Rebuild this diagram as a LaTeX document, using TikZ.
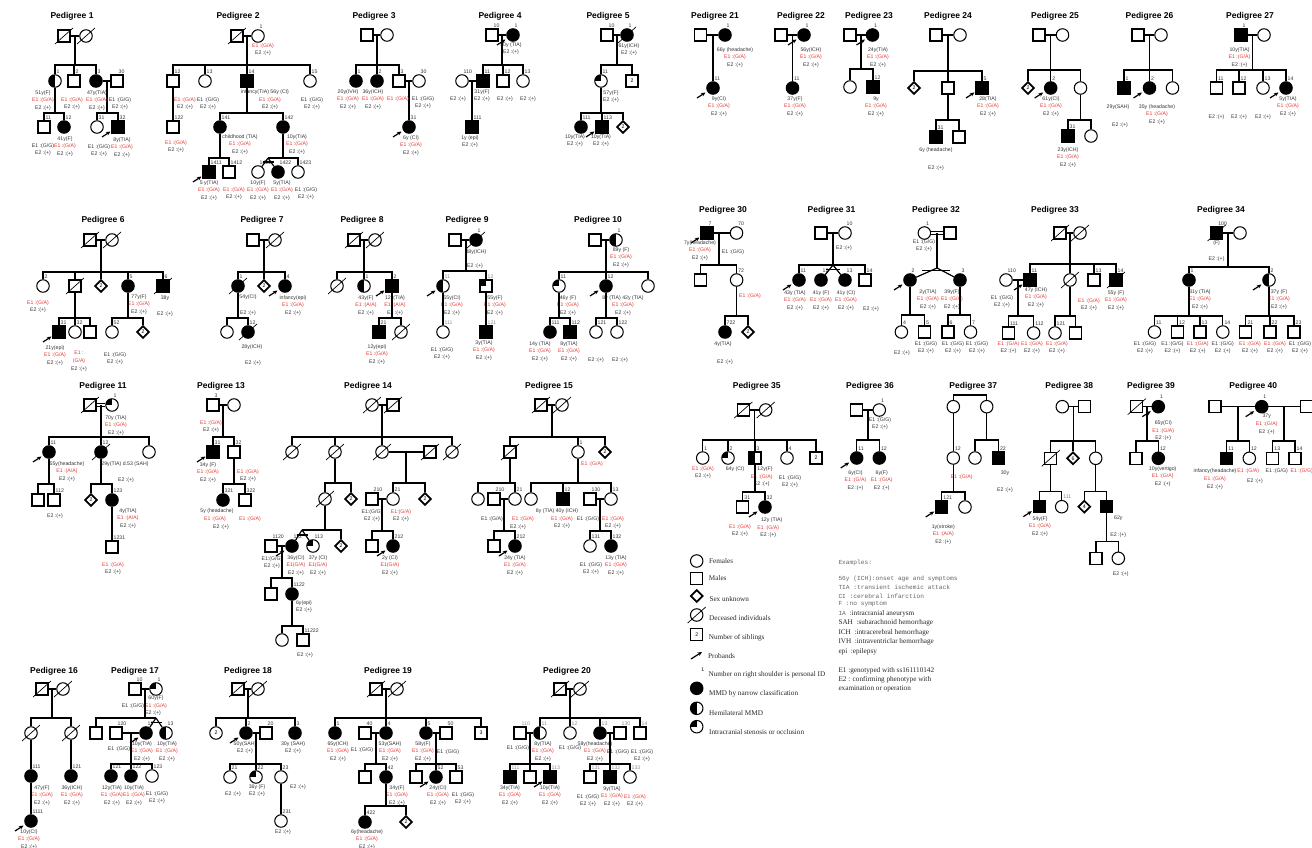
\documentclass[tikz,border=0pt]{standalone}
\usepackage{fontspec}
\setmainfont{Liberation Serif}
\setsansfont{Liberation Sans}
\setmonofont{Liberation Mono}
\usetikzlibrary{shapes.geometric,arrows.meta,calc,positioning}
\definecolor{ered}{RGB}{228,56,50}
\newcommand\pfont{\sffamily\fontsize{5.2}{7.7}\selectfont}
\newcommand\rE[1]{\textcolor{ered}{E1 :(#1)}}
\newcommand\bE[1]{E1 :(#1)}
\newcommand\Ep{E2 :(+)}
\newcommand\rip[1]{\draw[line width=0.7pt] ([shift={(-9,8)}]#1.center) -- ([shift={(9,-8)}]#1.center);}
\newcommand\prb[1]{\draw[-{Stealth[length=4.5pt,width=4pt]},line width=1.2pt] ([shift={(-16,10)}]#1.center) -- ([shift={(-7.5,4.5)}]#1.center);}
\newcommand\sibs[4]{\coordinate (#1) at (#2); \draw[lk] (#1) -- (#1 |- #3); \foreach \k in {#4} {\draw[lk] (\k) |- (#1);}}
\newcommand\twin[3]{\draw[lk] (#1) -- (#2) (#1) -- (#3); \draw[lk] ($(#1)!.55!(#2.north)$) -- ($(#1)!.55!(#3.north)$);}
\tikzset{
  lk/.style={line width=1.2pt},
  ml/.style={draw,rectangle,minimum size=12pt,inner sep=0pt,line width=1.05pt,font=\pfont},
  fm/.style={draw,circle,minimum size=12.5pt,inner sep=0pt,line width=1.05pt,font=\pfont},
  uk/.style={draw,diamond,minimum size=12.5pt,inner sep=0pt,line width=1.7pt,font=\pfont},
  af/.style={fill=black},
  hf/.style={path picture={\fill[black] (path picture bounding box.south west) rectangle (path picture bounding box.north);}},
  qf/.style={path picture={\fill[black] (path picture bounding box.west) rectangle (path picture bounding box.north);}},
  lbl/.style={font=\pfont,inner sep=0pt,anchor=south west,xshift=1.5pt,yshift=0.8pt,text=black!80},
  pid/.style={label={[lbl]north:#1}},
  gid/.style={label={[lbl,text=black!45]north:#1}},
  tx/.style={font=\pfont,align=center,inner sep=0pt,anchor=north,yshift=2.8pt,text=black!80},
  ttl/.style={font=\sffamily\bfseries\fontsize{8.5}{9}\selectfont},
  lg/.style={font=\rmfamily\fontsize{7.2}{8}\selectfont,anchor=west,inner sep=0pt,text=black!85},
  ex/.style={font=\ttfamily\fontsize{6.2}{7}\selectfont,anchor=west,inner sep=0pt,text=black!60},
}
\begin{document}
\begin{tikzpicture}[x=1pt,y=-1pt]
\useasboundingbox (0,0) rectangle (1312,848);

\node[ttl] (t1) at (72,16) {Pedigree 1};
\node[ml] (p1-f) at (64,36) {}; \node[fm] (p1-m) at (86,36) {}; \rip{p1-f} \rip{p1-m}
\draw[lk] (p1-f) -- (p1-m);
\node[fm,hf,pid=1] (p1-1) at (55,81) {};
\node[ml,pid=2] (p1-2) at (74,81) {};
\node[fm,af,pid=3] (p1-3) at (96,81) {};
\node[ml,pid=30] (p1-30) at (117,81) {};
\draw[lk] (p1-3) -- (p1-30);
\sibs{j1a}{75,65}{p1-f}{p1-1,p1-2,p1-3}
\node[ml,pid=11] (p1-11) at (44,127) {};
\node[fm,af,pid=12] (p1-12) at (64,127) {};
\sibs{j1b}{55,113}{p1-1.south}{p1-11,p1-12}
\node[fm,pid=31] (p1-31) at (97,127) {};
\node[ml,af,pid=32] (p1-32) at (118,127) {}; \prb{p1-32}
\sibs{j1c}{107,113}{p1-3}{p1-31,p1-32}
\node[tx] (n1a) at (43,93) {51y(F)\\\rE{G/A}\\\Ep};
\node[tx] (n1b) at (72,100) {\rE{G/A}\\\Ep};
\node[tx] (n1c) at (97,93) {47y(TIA)\\\rE{G/A}\\\Ep};
\node[tx] (n1d) at (120,100) {\bE{G/G}\\\Ep};
\node[tx] (n1e) at (43,146) {\bE{G/G}\\\Ep};
\node[tx] (n1f) at (65,139) {41y(F)\\\rE{G/A}\\\Ep};
\node[tx] (n1g) at (99,147) {\bE{G/G}\\\Ep};
\node[tx] (n1h) at (122,140) {8y(TIA)\\\rE{G/A}\\\Ep};

\node[ttl] (t2) at (238,16) {Pedigree 2};
\node[ml] (p2-f) at (237,36) {}; \rip{p2-f}
\node[fm,pid=1] (p2-1) at (258,36) {};
\draw[lk] (p2-f) -- (p2-1);
\node[tx] (n2a) at (263,46) {\rE{G/A}\\\Ep};
\node[ml,pid=12] (p2-12) at (173,81) {};
\node[fm,pid=13] (p2-13) at (205,81) {};
\node[ml,af,pid=14] (p2-14) at (247,81) {};
\node[fm,pid=15] (p2-15) at (310,81) {};
\sibs{j2a}{247,65}{p2-f}{p2-12,p2-13,p2-14,p2-15}
\node[tx] (n2b) at (185,100) {\rE{G/A}\\\Ep};
\node[tx] (n2c) at (208,100) {\bE{G/G}\\\Ep};
\node[tx] (n2d) at (265,92) {infancy(TIA) 56y (CI)};
\node[tx] (n2e) at (270,100) {\rE{G/A}\\\Ep};
\node[tx] (n2f) at (312,100) {\bE{G/G}\\\Ep};
\node[ml,pid=122] (p2-122) at (173,127) {};
\draw[lk] (p2-12) -- (p2-122);
\node[tx] (n2g) at (176,143) {\rE{G/A}\\\Ep};
\node[fm,af,pid=141] (p2-141) at (220,127) {};
\node[fm,af,pid=142] (p2-142) at (283,127) {};
\sibs{j2b}{247,113}{p2-14.south}{p2-141,p2-142}
\node[tx] (n2h) at (240,137) {childhood (TIA)\\\rE{G/A}\\\Ep};
\node[tx] (n2i) at (297,137) {10y(TIA)\\\rE{G/A}\\\Ep};
\node[ml,af,pid=1411] (p2-1411) at (209,172) {}; \prb{p2-1411}
\node[ml,pid=1412] (p2-1412) at (229,172) {};
\sibs{j2c}{220,158}{p2-141.south}{p2-1411,p2-1412}
\node[fm,pid=1421] (p2-1421) at (258,172) {};
\node[fm,af,pid=1422] (p2-1422) at (278,172) {};
\node[fm,pid=1423] (p2-1423) at (298,172) {};
\coordinate (w2) at (268,158);
\twin{w2}{p2-1421}{p2-1422}
\sibs{j2d}{283,158}{p2-142.south}{w2,p2-1423}
\node[tx] (n2j) at (209,183) {5 y(TIA)\\\rE{G/A}\\\Ep};
\node[tx] (n2k) at (234,190) {\rE{G/A}\\\Ep};
\node[tx] (n2l) at (258,183) {10y(F)\\\rE{G/A}\\\Ep};
\node[tx] (n2m) at (282,183) {5y(TIA)\\\rE{G/A}\\\Ep};
\node[tx] (n2n) at (306,190) {\bE{G/G}\\\Ep};

\node[ttl] (t3) at (374,16) {Pedigree 3};
\node[ml] (p3-f) at (367,35) {}; \node[fm] (p3-m) at (387,35) {};
\draw[lk] (p3-f) -- (p3-m);
\node[fm,af,pid=1] (p3-1) at (356,81) {};
\node[fm,af,pid=2] (p3-2) at (377,81) {};
\node[ml,pid=3] (p3-3) at (399,81) {};
\node[fm,pid=30] (p3-30) at (419,81) {};
\draw[lk] (p3-3) -- (p3-30);
\sibs{j3a}{377,65}{p3-f}{p3-1,p3-2,p3-3}
\node[fm,af,pid=31] (p3-31) at (409,127) {}; \prb{p3-31}
\draw[lk] (p3-31) -- (p3-31 |- p3-3);
\node[tx] (n3a) at (348,92) {20y(IVH)\\\rE{G/A}\\\Ep};
\node[tx] (n3b) at (373,92) {36y(ICH)\\\rE{G/A}\\\Ep};
\node[tx] (n3c) at (398,99) {\rE{G/A}};
\node[tx] (n3d) at (423,99) {\bE{G/G}\\\Ep};
\node[tx] (n3e) at (411,138) {6y (CI)\\\rE{G/A}\\\Ep};

\node[ttl] (t4) at (500,16) {Pedigree 4};
\node[ml,pid=10] (p4-10) at (492,35) {};
\node[fm,af,pid=1] (p4-1) at (513,35) {}; \prb{p4-1}
\draw[lk] (p4-10) -- (p4-1);
\node[tx] (n4a) at (511,45) {50y (TIA)\\\Ep};
\node[fm,pid=110] (p4-110) at (462,81) {};
\node[ml,af,pid=11] (p4-11) at (483,81) {};
\node[ml,pid=12] (p4-12) at (503,81) {};
\node[fm,pid=13] (p4-13) at (523,81) {};
\draw[lk] (p4-110) -- (p4-11);
\sibs{j4a}{502,65}{p4-10}{p4-11,p4-12,p4-13}
\node[ml,af,pid=111] (p4-111) at (472,127) {};
\draw[lk] (p4-111) -- (p4-111 |- p4-11);
\node[tx] (n4b) at (458,99) {\Ep};
\node[tx] (n4c) at (482,92) {31y(F)\\\Ep};
\node[tx] (n4d) at (505,99) {\Ep};
\node[tx] (n4e) at (528,99) {\Ep};
\node[tx] (n4f) at (470,138) {1y (epi)\\\Ep};

\node[ttl] (t5) at (608,16) {Pedigree 5};
\node[ml,pid=10] (p5-10) at (607,35) {};
\node[fm,af,pid=1] (p5-1) at (627,35) {}; \rip{p5-1}
\draw[lk] (p5-10) -- (p5-1);
\node[tx] (n5a) at (629,46) {61y(ICH)\\\Ep};
\node[fm,qf,pid=11] (p5-11) at (601,81) {};
\node[ml] (p5-s) at (632,81) {2};
\sibs{j5a}{617,65}{p5-10}{p5-11,p5-s}
\node[tx] (n5b) at (611,93) {57y(F)\\\Ep};
\node[fm,af,pid=111] (p5-111) at (581,127) {};
\node[ml,af,pid=113] (p5-113) at (602,127) {}; \prb{p5-113}
\node[uk] (p5-u) at (623,127) {2};
\sibs{j5b}{601,113}{p5-11.south}{p5-111,p5-113,p5-u}
\node[tx] (n5c) at (575,137) {10y(TIA)\\\Ep};
\node[tx] (n5d) at (601,137) {10y(TIA)\\\Ep};

\node[ttl] (t6) at (103,220) {Pedigree 6};
\node[ml] (p6-f) at (90,240) {}; \node[fm] (p6-m) at (112,240) {}; \rip{p6-f} \rip{p6-m}
\draw[lk] (p6-f) -- (p6-m);
\node[fm,pid=2] (p6-2) at (43,286) {};
\node[ml] (p6-d) at (75,286) {}; \rip{p6-d}
\node[uk] (p6-u) at (101,286) {2};
\node[fm,af,pid=5] (p6-5) at (128,286) {};
\node[ml,af,pid=6] (p6-6) at (163,286) {}; \rip{p6-6}
\sibs{j6a}{101,272}{p6-f}{p6-2,p6-d,p6-u,p6-5,p6-6}
\node[tx] (n6a) at (38,303) {\rE{G/A}\\\Ep};
\node[tx] (n6b) at (139,297) {77y(F)\\\rE{G/A}\\\Ep};
\node[tx] (n6c) at (165,298) {38y};
\node[tx] (n6d) at (165,314) {\Ep};
\node[ml,af,pid=31] (p6-31) at (59,332) {}; \prb{p6-31}
\node[fm,pid=32] (p6-32) at (75,332) {};
\node[ml] (p6-s) at (90,332) {};
\sibs{j6b}{75,318}{p6-d.south}{p6-31,p6-32,p6-s}
\node[fm,pid=52] (p6-52) at (112,332) {};
\node[uk] (p6-u2) at (143,332) {2};
\sibs{j6c}{128,318}{p6-5.south}{p6-52,p6-u2}
\node[tx] (n6e) at (55,348) {21y(epi)\\\rE{G/A}\\\Ep};
\node[tx] (n6f) at (79,354) {\textcolor{ered}{E1 :}\\\textcolor{ered}{(G/A)}\\\Ep};
\node[tx] (n6g) at (115,355) {\bE{G/G}\\\Ep};

\node[ttl] (t7) at (262,220) {Pedigree 7};
\node[ml] (p7-f) at (253,240) {}; \node[fm] (p7-m) at (275,240) {}; \rip{p7-m}
\draw[lk] (p7-f) -- (p7-m);
\node[fm,af,pid=1] (p7-1) at (238,286) {}; \rip{p7-1}
\node[uk] (p7-u) at (264,286) {2};
\node[fm,af,pid=4] (p7-4) at (285,286) {}; \prb{p7-4}
\sibs{j7a}{264,272}{p7-f}{p7-1,p7-u,p7-4}
\node[tx] (n7a) at (248,297) {54y(CI)};
\node[tx] (n7b) at (248,313) {\Ep};
\node[tx] (n7c) at (293,298) {infancy(epi)\\\rE{G/A}\\\Ep};
\node[fm] (p7-c) at (227,332) {};
\node[fm,af,pid=12] (p7-12) at (248,332) {}; \rip{p7-12}
\sibs{j7b}{238,318}{p7-1.south}{p7-c,p7-12}
\node[tx] (n7d) at (252,347) {28y(ICH)};
\node[tx] (n7e) at (253,363) {\Ep};

\node[ttl] (t8) at (362,220) {Pedigree 8};
\node[ml] (p8-f) at (354,240) {}; \node[fm] (p8-m) at (375,240) {}; \rip{p8-f} \rip{p8-m}
\draw[lk] (p8-f) -- (p8-m);
\node[fm] (p8-d) at (337,286) {}; \rip{p8-d}
\node[fm,hf,pid=1] (p8-1) at (364,286) {};
\node[ml,af,pid=2] (p8-2) at (392,286) {}; \prb{p8-2}
\sibs{j8a}{364,272}{p8-f}{p8-d,p8-1,p8-2}
\node[tx] (n8a) at (366,298) {43y(F)\\\rE{A/A}\\\Ep};
\node[tx] (n8b) at (395,298) {12y(TIA)\\\rE{A/A}\\\Ep};
\node[ml,af,pid=21] (p8-21) at (379,332) {};
\node[fm] (p8-d2) at (401,332) {}; \rip{p8-d2}
\sibs{j8b}{392,318}{p8-2.south}{p8-21,p8-d2}
\node[tx] (n8c) at (377,347) {12y(epi)\\\rE{G/A}\\\Ep};

\node[ttl] (t9) at (467,220) {Pedigree 9};
\node[ml] (p9-f) at (455,240) {};
\node[fm,af,pid=1] (p9-1) at (476,240) {}; \rip{p9-1}
\draw[lk] (p9-f) -- (p9-1);
\node[tx] (n9a) at (476,252) {38y(ICH)};
\node[tx] (n9b) at (475,266) {\Ep};
\node[fm,hf,gid=11] (p9-11) at (443,286) {}; \prb{p9-11}
\node[ml,qf,gid=12] (p9-12) at (486,286) {};
\sibs{j9a}{466,271}{p9-f}{p9-11,p9-12}
\node[tx] (n9c) at (452,298) {55y(CI)\\\rE{G/A}\\\Ep};
\node[tx] (n9d) at (495,298) {55y(F)\\\rE{G/A}\\\Ep};
\node[fm,gid=111] (p9-111) at (443,332) {};
\node[ml,af,gid=121] (p9-121) at (486,332) {};
\draw[lk] (p9-11) -- (p9-111); \draw[lk] (p9-12) -- (p9-121);
\node[tx] (n9e) at (442,350) {\bE{G/G}\\\Ep};
\node[tx] (n9f) at (484,343) {3y(TIA)\\\rE{G/A}\\\Ep};

\node[ttl] (t10) at (598,220) {Pedigree 10};
\node[ml] (p10-f) at (595,240) {};
\node[fm,hf,pid=1] (p10-1) at (616,240) {};
\draw[lk] (p10-f) -- (p10-1);
\node[tx] (n10a) at (621,250) {89y (F)\\\rE{G/A}\\\Ep};
\node[fm,qf,pid=11] (p10-11) at (559,286) {};
\node[fm,af,pid=12] (p10-12) at (606,286) {}; \prb{p10-12}
\node[fm] (p10-c) at (648,286) {};
\sibs{j10a}{606,272}{p10-f}{p10-11,p10-12,p10-c}
\node[tx] (n10b) at (568,298) {46y (F)\\\rE{G/A}\\\Ep};
\node[tx] (n10c) at (623,298) {8y (TIA) 42y (TIA)\\\rE{G/A}\\\Ep};
\node[fm,af,pid=111] (p10-111) at (550,332) {};
\node[ml,af,pid=112] (p10-112) at (570,332) {};
\sibs{j10b}{559,318}{p10-11.south}{p10-111,p10-112}
\node[fm,pid=121] (p10-121) at (596,332) {};
\node[fm,pid=122] (p10-122) at (617,332) {};
\sibs{j10c}{606,318}{p10-12.south}{p10-121,p10-122}
\node[tx] (n10d) at (540,344) {14y (TIA)\\\rE{G/A}\\\Ep};
\node[tx] (n10e) at (569,344) {8y(TIA)\\\rE{G/A}\\\Ep};
\node[tx] (n10f) at (596,360) {\Ep};
\node[tx] (n10g) at (620,360) {\Ep};

\node[ttl] (t11) at (103,386) {Pedigree 11};
\node[ml] (p11-f) at (90,405) {}; \rip{p11-f}
\node[fm,qf,pid=1] (p11-1) at (112,405) {};
\draw[lk,double,double distance=1.4pt] (p11-f) -- (p11-1);
\node[tx] (n11a) at (116,418) {70y (TIA)\\\rE{G/A}\\\Ep};
\node[fm,af,pid=11] (p11-11) at (49,452) {}; \prb{p11-11}
\node[fm,af,pid=12] (p11-12) at (101,452) {}; \rip{p11-12}
\node[fm] (p11-c) at (149,452) {};
\sibs{j11a}{101,437}{p11-f}{p11-11,p11-12,p11-c}
\node[tx] (n11b) at (67,464) {55y(headache)\\\rE{A/A}\\\Ep};
\node[tx] (n11c) at (125,464) {29y(TIA) d.53 (SAH)};
\node[tx] (n11d) at (126,480) {\Ep};
\node[ml] (p11-s) at (38,500) {};
\node[ml,pid=112] (p11-112) at (54,500) {};
\sibs{j11b}{49,484}{p11-11.south}{p11-s,p11-112}
\node[tx] (n11e) at (55,516) {\Ep};
\node[uk] (p11-u) at (91,500) {2};
\node[fm,af,pid=123] (p11-123) at (112,500) {};
\sibs{j11c}{101,484}{p11-12.south}{p11-u,p11-123}
\node[tx] (n11f) at (128,511) {4y(TIA)\\\rE{A/A}\\\Ep};
\node[ml,pid=1231] (p11-1231) at (112,547) {};
\draw[lk] (p11-123) -- (p11-1231);
\node[tx] (n11g) at (113,565) {\rE{G/A}\\\Ep};

\node[ttl] (t13) at (221,386) {Pedigree 13};
\node[ml,pid=3] (p13-3) at (213,405) {};
\node[fm] (p13-m) at (234,405) {};
\draw[lk] (p13-3) -- (p13-m);
\node[tx] (n13a) at (211,423) {\rE{G/A}\\\Ep};
\node[ml,af,pid=31] (p13-31) at (213,452) {}; \prb{p13-31}
\node[ml,pid=32] (p13-32) at (234,452) {};
\sibs{j13a}{223,437}{p13-3}{p13-31,p13-32}
\node[tx] (n13b) at (208,465) {34y (F)\\\rE{G/A}\\\Ep};
\node[tx] (n13c) at (248,472) {\rE{G/A}\\\Ep};
\node[fm,af,pid=321] (p13-321) at (223,500) {};
\node[ml,pid=322] (p13-322) at (245,500) {};
\sibs{j13b}{234,484}{p13-32.south}{p13-321,p13-322}
\node[tx] (n13d) at (217,511) {5y (headache)};
\node[tx] (n13e) at (215,519) {\rE{G/A}};
\node[tx] (n13f) at (250,519) {\rE{G/A}};
\node[tx] (n13g) at (221,527) {\Ep};

\node[ttl] (t14) at (368,386) {Pedigree 14};
\node[fm] (p14-m) at (372,405) {}; \node[ml] (p14-f) at (393,405) {}; \rip{p14-m} \rip{p14-f}
\draw[lk] (p14-m) -- (p14-f);
\node[fm] (p14-a) at (292,452) {}; \rip{p14-a}
\node[fm] (p14-b) at (335,452) {}; \rip{p14-b}
\node[fm] (p14-c) at (382,452) {}; \rip{p14-c}
\node[ml] (p14-cs) at (430,452) {}; \rip{p14-cs}
\node[fm] (p14-d) at (452,452) {}; \rip{p14-d}
\draw[lk] (p14-c) -- (p14-cs);
\sibs{j14a}{382,437}{p14-m}{p14-a,p14-b,p14-c,p14-d}
\node[fm] (p14-e) at (325,499) {}; \rip{p14-e}
\node[uk] (p14-u1) at (351,499) {2};
\sibs{j14b}{335,483}{p14-b.south}{p14-e,p14-u1}
\node[ml,pid=210] (p14-210) at (372,499) {};
\node[fm,pid=21] (p14-21) at (393,499) {};
\node[uk] (p14-u2) at (425,499) {2};
\draw[lk] (p14-210) -- (p14-21);
\sibs{j14c}{406,483}{p14-c}{p14-21,p14-u2}
\node[tx] (n14a) at (372,512) {E1:(G/G)\\\Ep};
\node[tx] (n14b) at (401,512) {\textcolor{ered}{E1:(G/A)}\\\Ep};
\node[ml,pid=1120] (p14-1120) at (271,546) {};
\node[fm,af,pid=112] (p14-112) at (292,546) {}; \prb{p14-112}
\node[fm,qf,pid=113] (p14-113) at (313,546) {};
\node[uk] (p14-u3) at (341,546) {2};
\draw[lk] (p14-1120) -- (p14-112);
\coordinate (w14) at (302,530);
\twin{w14}{p14-112}{p14-113}
\sibs{j14d}{325,530}{p14-e.south}{w14,p14-u3}
\node[tx] (n14c) at (272,559) {E1:(G/G)\\\Ep};
\node[tx] (n14d) at (296,558) {36y(CI)\\\textcolor{ered}{E1(G/A)}\\\Ep};
\node[tx] (n14e) at (318,558) {37y (CI)\\\textcolor{ered}{E1(G/A)}\\\Ep};
\node[ml] (p14-s) at (271,594) {};
\node[fm,af,pid=1122] (p14-1122) at (292,594) {};
\sibs{j14e}{282,578}{p14-1120}{p14-s,p14-1122}
\node[tx] (n14f) at (304,603) {6y(epi)\\\Ep};
\node[ml] (p14-s2) at (372,546) {};
\node[fm,af,pid=212] (p14-212) at (393,546) {}; \prb{p14-212}
\sibs{j14f}{382,531}{p14-210}{p14-s2,p14-212}
\node[tx] (n14g) at (390,558) {2y (CI)\\\textcolor{ered}{E1(G/A)}\\\Ep};
\node[fm] (p14-c1) at (282,640) {};
\node[ml,pid=11222] (p14-11222) at (303,640) {};
\sibs{j14g}{292,626}{p14-1122.south}{p14-c1,p14-11222}
\node[tx] (n14h) at (305,655) {\Ep};

\node[ttl] (t15) at (549,386) {Pedigree 15};
\node[ml] (p15-f) at (541,405) {}; \node[fm] (p15-m) at (562,405) {}; \rip{p15-f} \rip{p15-m}
\draw[lk] (p15-f) -- (p15-m);
\node[ml] (p15-a) at (510,452) {}; \rip{p15-a}
\node[fm,pid=1] (p15-1) at (578,452) {};
\node[uk] (p15-u) at (605,452) {2};
\sibs{j15a}{552,437}{p15-f}{p15-a,p15-1,p15-u}
\node[tx] (n15a) at (592,464) {\rE{G/A}};
\node[fm] (p15-c) at (478,499) {};
\node[ml,pid=210] (p15-210) at (494,499) {};
\node[fm,pid=21] (p15-21) at (515,499) {};
\draw[lk] (p15-210) -- (p15-21);
\sibs{j15b}{510,483}{p15-a.south}{p15-c,p15-21}
\node[tx] (n15b) at (492,519) {\bE{G/A}};
\node[tx] (n15c) at (523,519) {\rE{G/A}};
\node[tx] (n15d) at (518,527) {\Ep};
\node[ml] (p15-s) at (494,546) {};
\node[fm,af,pid=212] (p15-212) at (515,546) {}; \prb{p15-212}
\sibs{j15c}{504,531}{p15-210}{p15-s,p15-212}
\node[tx] (n15e) at (515,558) {24y (TIA)\\\rE{G/A}\\\Ep};
\node[fm] (p15-d) at (531,499) {};
\node[ml,af,pid=12] (p15-12) at (563,499) {};
\node[ml,pid=130] (p15-130) at (590,499) {};
\node[fm,pid=13] (p15-13) at (611,499) {};
\draw[lk] (p15-130) -- (p15-13);
\sibs{j15d}{578,483}{p15-1.south}{p15-d,p15-12,p15-13}
\node[tx] (n15f) at (557,511) {8y (TIA) 40y (ICH)};
\node[tx] (n15g) at (562,519) {\rE{G/A}\\\Ep};
\node[tx] (n15h) at (588,519) {\bE{G/G}};
\node[tx] (n15i) at (613,519) {\rE{G/A}\\\Ep};
\node[fm,pid=131] (p15-131) at (590,546) {};
\node[fm,af,pid=132] (p15-132) at (611,546) {};
\sibs{j15e}{600,531}{p15-130}{p15-131,p15-132}
\node[tx] (n15j) at (591,565) {\bE{G/G}\\\Ep};
\node[tx] (n15k) at (616,558) {13y (TIA)\\\rE{G/A}\\\Ep};

\node[ttl] (t16) at (54,671) {Pedigree 16};
\node[ml] (p16-f) at (42,689) {}; \node[fm] (p16-m) at (63,689) {}; \rip{p16-f} \rip{p16-m}
\draw[lk] (p16-f) -- (p16-m);
\node[fm] (p16-a) at (31,733) {}; \rip{p16-a}
\node[fm] (p16-b) at (71,733) {}; \rip{p16-b}
\sibs{j16a}{52,718}{p16-f}{p16-a,p16-b}
\node[fm,af,pid=111] (p16-111) at (31,776) {};
\node[fm,af,pid=121] (p16-121) at (71,776) {};
\draw[lk] (p16-a) -- (p16-111); \draw[lk] (p16-b) -- (p16-121);
\node[tx] (n16a) at (42,788) {47y(F)\\\rE{G/A}\\\Ep};
\node[tx] (n16b) at (72,788) {36y(ICH)\\\rE{G/A}\\\Ep};
\node[fm,af,pid=1111] (p16-1111) at (31,821) {}; \prb{p16-1111}
\draw[lk] (p16-111) -- (p16-1111);
\node[tx] (n16c) at (29,832) {10y(CI)\\\rE{G/A}\\\Ep};

\node[ttl] (t17) at (135,671) {Pedigree 17};
\node[ml,pid=10] (p17-10) at (135,689) {};
\node[fm,qf,pid=1] (p17-1) at (156,689) {};
\draw[lk] (p17-10) -- (p17-1);
\node[tx] (n17a) at (156,698) {60y(F)};
\node[tx] (n17b) at (133,706) {\bE{G/G}};
\node[tx] (n17c) at (156,706) {\rE{G/A}};
\node[tx] (n17d) at (153,713) {\Ep};
\node[ml] (p17-s) at (96,733) {};
\node[ml,pid=120] (p17-120) at (116,733) {};
\node[fm,af,pid=12] (p17-12) at (146,733) {}; \prb{p17-12}
\node[fm,hf,pid=13] (p17-13) at (166,733) {};
\draw[lk] (p17-120) -- (p17-12);
\coordinate (w17) at (156,718);
\twin{w17}{p17-12}{p17-13}
\sibs{j17a}{145,718}{p17-10}{p17-s,w17}
\node[tx] (n17e) at (119,749) {\bE{G/G}};
\node[tx] (n17f) at (142,744) {10y(TIA)\\\rE{G/A}\\\Ep};
\node[tx] (n17g) at (167,744) {10y(TIA)\\\rE{G/A}\\\Ep};
\node[fm,af,pid=121] (p17-121) at (111,776) {};
\node[fm,af,pid=122] (p17-122) at (131,776) {};
\node[fm,pid=123] (p17-123) at (152,776) {};
\sibs{j17b}{131,764}{p17-120}{p17-121,p17-122,p17-123}
\node[tx] (n17h) at (112,788) {12y(TIA)\\\rE{G/A}\\\Ep};
\node[tx] (n17i) at (134,788) {10y(TIA)\\\rE{G/A}\\\Ep};
\node[tx] (n17j) at (157,794) {\bE{G/G}\\\Ep};

\node[ttl] (t18) at (248,671) {Pedigree 18};
\node[ml] (p18-f) at (238,689) {}; \node[fm] (p18-m) at (258,689) {}; \rip{p18-f} \rip{p18-m}
\draw[lk] (p18-f) -- (p18-m);
\node[fm] (p18-s) at (216,733) {2};
\node[fm,af,pid=2] (p18-2) at (246,733) {}; \prb{p18-2}
\node[ml,pid=20] (p18-20) at (266,733) {};
\node[fm,af,pid=3] (p18-3) at (295,733) {};
\draw[lk] (p18-2) -- (p18-20);
\sibs{j18a}{248,718}{p18-f}{p18-s,p18-2,p18-3}
\node[tx] (n18a) at (245,744) {50y(SAH)\\\Ep};
\node[tx] (n18b) at (293,744) {30y (SAH)\\\Ep};
\node[fm,pid=21] (p18-21) at (230,777) {};
\node[fm,qf,pid=22] (p18-22) at (256,777) {};
\node[fm,pid=23] (p18-23) at (281,777) {};
\sibs{j18b}{256,764}{p18-2}{p18-21,p18-22,p18-23}
\node[tx] (n18c) at (233,794) {\Ep};
\node[tx] (n18d) at (257,787) {36y (F)\\\Ep};
\node[tx] (n18e) at (298,787) {\Ep};
\node[fm,pid=231] (p18-231) at (281,821) {};
\draw[lk] (p18-23) -- (p18-231);
\node[tx] (n18f) at (283,832) {\Ep};

\node[ttl] (t19) at (388,671) {Pedigree 19};
\node[ml] (p19-f) at (376,689) {}; \node[fm] (p19-m) at (397,689) {}; \rip{p19-f} \rip{p19-m}
\draw[lk] (p19-f) -- (p19-m);
\node[fm,af,pid=1] (p19-1) at (335,733) {};
\node[ml,pid=40] (p19-40) at (365,733) {};
\node[fm,af,pid=4] (p19-4) at (386,733) {};
\node[fm,af,pid=5] (p19-5) at (426,733) {};
\node[ml,pid=50] (p19-50) at (446,733) {};
\node[ml] (p19-s3) at (481,733) {3};
\draw[lk] (p19-40) -- (p19-4); \draw[lk] (p19-5) -- (p19-50);
\sibs{j19a}{386,718}{p19-f}{p19-1,p19-4,p19-5,p19-s3}
\node[tx] (n19a) at (338,744) {65y(ICH)\\\rE{G/A}\\\Ep};
\node[tx] (n19b) at (362,750) {\bE{G/G}};
\node[tx] (n19c) at (390,744) {53y(SAH)\\\rE{G/A}\\\Ep};
\node[tx] (n19d) at (423,744) {58y(F)\\\rE{G/A}\\\Ep};
\node[tx] (n19e) at (448,752) {\bE{G/G}};
\node[ml] (p19-s) at (365,777) {};
\node[fm,af,pid=42] (p19-42) at (386,777) {};
\sibs{j19b}{376,764}{p19-40}{p19-s,p19-42}
\node[tx] (n19f) at (397,788) {34y(F)\\\rE{G/A}\\\Ep};
\node[fm,af,pid=422] (p19-422) at (365,822) {};
\node[uk] (p19-u) at (406,822) {2};
\sibs{j19c}{386,806}{p19-42.south}{p19-422,p19-u}
\node[tx] (n19g) at (367,832) {6y(headache)\\\rE{G/A}\\\Ep};
\node[ml] (p19-s2) at (416,777) {};
\node[fm,af,pid=52] (p19-52) at (436,777) {}; \prb{p19-52}
\node[ml,pid=53] (p19-53) at (456,777) {};
\sibs{j19d}{436,764}{p19-5}{p19-s2,p19-52,p19-53}
\node[tx] (n19h) at (438,788) {24y(CI)\\\rE{G/A}\\\Ep};
\node[tx] (n19i) at (463,795) {\bE{G/G}\\\Ep};

\node[ttl] (t20) at (567,671) {Pedigree 20};
\node[ml] (p20-f) at (560,689) {}; \node[fm] (p20-m) at (580,689) {}; \rip{p20-f} \rip{p20-m}
\draw[lk] (p20-f) -- (p20-m);
\node[ml,gid=110] (p20-110) at (520,733) {};
\node[fm,hf,gid=11] (p20-11) at (540,733) {};
\node[fm,gid=12] (p20-12) at (570,733) {};
\node[fm,af,gid=13] (p20-13) at (600,733) {};
\node[ml,gid=130] (p20-130) at (620,733) {};
\node[ml,gid=14] (p20-14) at (640,733) {};
\draw[lk] (p20-110) -- (p20-11); \draw[lk] (p20-13) -- (p20-130);
\sibs{j20a}{570,718}{p20-f}{p20-11,p20-12,p20-13,p20-14}
\node[tx] (n20a) at (518,748) {\bE{G/G}};
\node[tx] (n20b) at (543,744) {8y(TIA)\\\rE{G/A}\\\Ep};
\node[tx] (n20c) at (570,748) {\bE{G/G}};
\node[tx] (n20d) at (595,744) {58y(headache)\\\rE{G/A}\\\Ep};
\node[tx] (n20e) at (618,752) {\bE{G/G}};
\node[tx] (n20f) at (642,752) {\bE{G/G}\\\Ep};
\node[ml,af,gid=111] (p20-111) at (510,777) {};
\node[ml] (p20-s) at (530,777) {};
\node[ml,af,gid=113] (p20-113) at (550,777) {}; \prb{p20-113}
\sibs{j20b}{530,764}{p20-110}{p20-111,p20-s,p20-113}
\node[ml,gid=131] (p20-131) at (590,777) {};
\node[ml,af,gid=132] (p20-132) at (610,777) {};
\node[fm,gid=133] (p20-133) at (630,777) {};
\sibs{j20c}{610,764}{p20-13}{p20-131,p20-132,p20-133}
\node[tx] (n20g) at (510,788) {34y(TIA)\\\rE{G/A}\\\Ep};
\node[tx] (n20h) at (550,788) {10y(TIA)\\\rE{G/A}\\\Ep};
\node[tx] (n20i) at (588,797) {\bE{G/G}\\\Ep};
\node[tx] (n20j) at (612,789) {9y(TIA)\\\rE{G/A}\\\Ep};
\node[tx] (n20k) at (635,797) {\rE{G/A}\\\Ep};

\node[ttl] (t21) at (715,16) {Pedigree 21};
\node[ml] (p21-f) at (700.6,35) {};
\node[fm,af,pid=1] (p21-1) at (725,35) {};
\draw[lk] (p21-f) -- (p21-1);
\node[fm,af,pid=11] (p21-11) at (713,88) {}; \prb{p21-11}
\draw[lk] (p21-11) -- (p21-11 |- p21-f);
\node[tx] (n21a) at (735,50) {66y (headache)\\\rE{G/A}\\\Ep};
\node[tx] (n21b) at (719,99) {9y(CI)\\\rE{G/A}\\\Ep};

\node[ttl] (t22) at (801,16) {Pedigree 22};
\node[ml] (p22-f) at (781,35) {};
\node[fm,af,pid=1] (p22-1) at (804,35) {}; \prb{p22-1}
\draw[lk] (p22-f) -- (p22-1);
\node[fm,af,pid=11] (p22-11) at (792.5,88) {};
\draw[lk] (p22-11) -- (p22-11 |- p22-f);
\node[tx] (n22a) at (811,50) {56y(ICH)\\\rE{G/A}\\\Ep};
\node[tx] (n22b) at (795,99) {37y(F)\\\rE{G/A}\\\Ep};

\node[ttl] (t23) at (869,16) {Pedigree 23};
\node[ml] (p23-f) at (850,35) {};
\node[fm,af,pid=1] (p23-1) at (872.5,35) {}; \prb{p23-1}
\draw[lk] (p23-f) -- (p23-1);
\node[fm] (p23-c) at (850,87) {};
\node[ml,af,pid=12] (p23-12) at (873,87) {};
\sibs{j23a}{861,69}{p23-f}{p23-c,p23-12}
\node[tx] (n23a) at (878,50) {24y(TIA)\\\rE{G/A}\\\Ep};
\node[tx] (n23b) at (876,99) {9y\\\rE{G/A}\\\Ep};

\node[ttl] (t24) at (948,16) {Pedigree 24};
\node[ml] (p24-f) at (936,35) {}; \node[fm] (p24-m) at (960,35) {};
\draw[lk] (p24-f) -- (p24-m);
\node[uk] (p24-u) at (914,88) {2};
\node[ml] (p24-s) at (948,88) {};
\node[ml,af,pid=5] (p24-5) at (982,88) {}; \prb{p24-5}
\sibs{j24a}{948,71}{p24-f}{p24-u,p24-s,p24-5}
\node[tx] (n24a) at (988,99) {28(TIA)\\\rE{G/A}\\\Ep};
\node[ml,af,pid=31] (p24-31) at (936,137) {};
\node[ml] (p24-s2) at (959,137) {};
\sibs{j24b}{948,120}{p24-s.south}{p24-31,p24-s2}
\node[tx] (n24b) at (936,150) {6y (headache)};
\node[tx] (n24c) at (936,168) {\Ep};

\node[ttl] (t25) at (1055,16) {Pedigree 25};
\node[ml] (p25-f) at (1039,35) {}; \node[fm] (p25-m) at (1062.5,35) {};
\draw[lk] (p25-f) -- (p25-m);
\node[uk] (p25-u) at (1028,88) {2};
\node[fm,af,pid=2] (p25-2) at (1050.7,88) {}; \prb{p25-2}
\node[fm] (p25-c) at (1080.5,88) {};
\sibs{j25a}{1050.7,70}{p25-f}{p25-u,p25-2,p25-c}
\node[tx] (n25a) at (1051,99) {61y(CI)\\\rE{G/A}\\\Ep};
\node[ml,af,pid=31] (p25-31) at (1068,136) {};
\node[fm] (p25-c2) at (1091,136) {};
\sibs{j25b}{1080.5,120}{p25-c.south}{p25-31,p25-c2}
\node[tx] (n25b) at (1068,150) {23y(ICH)\\\rE{G/A}\\\Ep};

\node[ttl] (t26) at (1149.5,16) {Pedigree 26};
\node[ml] (p26-f) at (1138,35) {}; \node[fm] (p26-m) at (1161,35) {};
\draw[lk] (p26-f) -- (p26-m);
\node[ml,af,pid=1] (p26-1) at (1124,88) {};
\node[fm,af,pid=2] (p26-2) at (1149.5,88) {}; \prb{p26-2}
\node[fm] (p26-c) at (1172.5,88) {};
\sibs{j26a}{1149.5,70}{p26-f}{p26-1,p26-2,p26-c}
\node[tx] (n26a) at (1118,107) {29y(SAH)};
\node[tx] (n26b) at (1120,125) {\Ep};
\node[tx] (n26c) at (1157,107) {35y (headache)\\\rE{G/A}\\\Ep};

\node[ttl] (t27) at (1250,16) {Pedigree 27};
\node[ml,af,pid=1] (p27-1) at (1241,35) {};
\node[fm] (p27-m) at (1264,35) {};
\draw[lk] (p27-1) -- (p27-m);
\node[tx] (n27a) at (1239.5,50) {10y(TIA)\\\rE{G/A}\\\Ep};
\node[ml,pid=11] (p27-11) at (1216.5,88) {};
\node[ml,pid=12] (p27-12) at (1239,88) {};
\node[fm,pid=13] (p27-13) at (1263,88) {};
\node[fm,af,pid=14] (p27-14) at (1286,88) {}; \prb{p27-14}
\sibs{j27a}{1252.5,70}{p27-1}{p27-11,p27-12,p27-13,p27-14}
\node[tx] (n27b) at (1216.5,117) {\Ep};
\node[tx] (n27c) at (1239,117) {\Ep};
\node[tx] (n27d) at (1263,117) {\Ep};
\node[tx] (n27e) at (1288,99) {5y(TIA)\\\rE{G/A}\\\Ep};

\node[ttl] (t30) at (723,210) {Pedigree 30};
\node[ml,af,pid=7] (p30-7) at (707,233) {}; \prb{p30-7}
\node[fm,pid=70] (p30-70) at (736.5,233) {};
\draw[lk] (p30-7) -- (p30-70);
\node[tx] (n30a) at (700,243) {7y(headache)\\\rE{G/A}\\\Ep};
\node[tx] (n30b) at (733,252) {\bE{G/G}};
\node[ml] (p30-s) at (700.6,280) {};
\node[fm,pid=72] (p30-72) at (736.6,280) {};
\sibs{j30a}{719,265}{p30-7}{p30-s,p30-72}
\node[tx] (n30c) at (750,296) {\rE{G/A}};
\node[fm,af,pid=722] (p30-722) at (725,332) {};
\node[uk] (p30-u) at (748,332) {2};
\sibs{j30b}{736.6,316}{p30-72.south}{p30-722,p30-u}
\node[tx] (n30d) at (723,344) {4y(TIA)};
\node[tx] (n30e) at (725,362) {\Ep};

\node[ttl] (t31) at (831.5,210) {Pedigree 31};
\node[ml] (p31-f) at (821,233) {};
\node[fm,pid=10] (p31-10) at (845,233) {};
\draw[lk] (p31-f) -- (p31-10);
\node[tx] (n31a) at (844,248) {\Ep};
\node[fm,af,pid=11] (p31-11) at (799,280) {}; \prb{p31-11}
\node[fm,af,pid=12] (p31-12) at (821,280) {};
\node[fm,af,pid=13] (p31-13) at (845,280) {};
\node[ml,pid=14] (p31-14) at (865,280) {};
\coordinate (w31) at (833,265);
\twin{w31}{p31-12}{p31-13}
\sibs{j31a}{833,265}{p31-f}{p31-11,w31,p31-14}
\node[tx] (n31b) at (795,293) {43y (TIA)\\\rE{G/A}\\\Ep};
\node[tx] (n31c) at (821,293) {41y (F)\\\rE{G/A}\\\Ep};
\node[tx] (n31d) at (846,293) {41y (CI)\\\rE{G/A}\\\Ep};
\node[tx] (n31e) at (871,309) {\Ep};

\node[ttl] (t32) at (936,210) {Pedigree 32};
\node[fm,pid=1] (p32-1) at (924.4,233) {};
\node[ml] (p32-m) at (950,233) {};
\draw[lk,double,double distance=1.4pt] (p32-1) -- (p32-m);
\node[tx] (n32a) at (924,242) {\bE{G/G}\\\Ep};
\node[fm,af,pid=2] (p32-2) at (910,280) {}; \prb{p32-2}
\node[fm,af,pid=3] (p32-3) at (960,280) {};
\coordinate (w32) at (937,268);
\draw[lk] (w32) -- (w32 |- p32-1);
\twin{w32}{p32-2}{p32-3}
\node[tx] (n32b) at (928,292) {2y(TIA)\\\rE{G/A}\\\Ep};
\node[tx] (n32c) at (952,292) {39y(F)\\\rE{G/A}\\\Ep};
\node[fm,pid=4] (p32-4) at (901.4,332) {};
\node[ml,pid=5] (p32-5) at (924.4,332) {};
\sibs{j32a}{910,315}{p32-2.south}{p32-4,p32-5}
\node[ml,pid=6] (p32-6) at (948,332) {};
\node[fm,pid=7] (p32-7) at (970.5,332) {};
\sibs{j32b}{960,315}{p32-3.south}{p32-6,p32-7}
\node[tx] (n32d) at (902,353) {\Ep};
\node[tx] (n32e) at (926,344) {\bE{G/G}\\\Ep};
\node[tx] (n32f) at (953,344) {\bE{G/G}\\\Ep};
\node[tx] (n32g) at (977,344) {\bE{G/G}\\\Ep};

\node[ttl] (t33) at (1055,210) {Pedigree 33};
\node[ml] (p33-f) at (1060,233) {}; \node[fm] (p33-m) at (1080,233) {}; \rip{p33-f} \rip{p33-m}
\draw[lk] (p33-f) -- (p33-m);
\node[fm,pid=110] (p33-110) at (1006,280) {};
\node[ml,af,pid=11] (p33-11) at (1030,280) {}; \prb{p33-11}
\node[fm] (p33-d) at (1070,280) {}; \rip{p33-d}
\node[ml,pid=13] (p33-13) at (1094,280) {};
\node[ml,af,pid=14] (p33-14) at (1116,280) {}; \rip{p33-14}
\draw[lk] (p33-110) -- (p33-11);
\sibs{j33a}{1070,264}{p33-f}{p33-11,p33-d,p33-13,p33-14}
\node[tx] (n33a) at (1002,298) {\bE{G/G}\\\Ep};
\node[tx] (n33b) at (1036,290) {47y (ICH)\\\rE{G/A}\\\Ep};
\node[tx] (n33c) at (1089,301) {\rE{G/A}\\\Ep};
\node[tx] (n33d) at (1116,293) {55y (F)\\\rE{G/A}\\\Ep};
\node[ml,pid=111] (p33-111) at (1008.5,333) {};
\node[fm,pid=112] (p33-112) at (1033.6,333) {};
\sibs{j33b}{1018,316}{p33-110}{p33-111,p33-112}
\node[fm,pid=121] (p33-121) at (1055,333) {};
\node[ml] (p33-s) at (1075.5,333) {};
\sibs{j33c}{1070,316}{p33-d.south}{p33-121,p33-s}
\node[tx] (n33e) at (1008.5,344) {\rE{G/A}\\\Ep};
\node[tx] (n33f) at (1032,344) {\rE{G/A}\\\Ep};
\node[tx] (n33g) at (1057,344) {\rE{G/A}\\\Ep};

\node[ttl] (t34) at (1221,210) {Pedigree 34};
\node[ml,af,pid=100] (p34-100) at (1216.6,233) {}; \rip{p34-100}
\node[fm] (p34-m) at (1240,233) {};
\draw[lk] (p34-100) -- (p34-m);
\node[tx] (n34a) at (1216.6,243) {(F)};
\node[tx] (n34b) at (1216.6,259) {\Ep};
\node[fm,af,pid=1] (p34-1) at (1189,280) {};
\node[fm,hf,pid=2] (p34-2) at (1269,280) {}; \prb{p34-2}
\sibs{j34a}{1228,267}{p34-100}{p34-1,p34-2}
\node[tx] (n34c) at (1200,292) {31y (TIA)\\\rE{G/A}\\\Ep};
\node[tx] (n34d) at (1279,292) {37y (F)\\\rE{G/A}\\\Ep};
\node[fm,pid=11] (p34-11) at (1154.5,332) {};
\node[ml,pid=12] (p34-12) at (1177.5,332) {};
\node[ml,pid=13] (p34-13) at (1200,332) {};
\node[fm,pid=14] (p34-14) at (1222.8,332) {};
\sibs{j34b}{1189,316}{p34-1.south}{p34-11,p34-12,p34-13,p34-14}
\node[ml,pid=21] (p34-21) at (1245.8,332) {};
\node[ml,pid=22] (p34-22) at (1270,332) {};
\node[ml,pid=23] (p34-23) at (1294,332) {};
\sibs{j34c}{1269,316}{p34-2.south}{p34-21,p34-22,p34-23}
\node[tx] (n34e) at (1145,344) {\bE{G/G}\\\Ep};
\node[tx] (n34f) at (1172.5,344) {\bE{G/G}\\\Ep};
\node[tx] (n34g) at (1197.7,344) {\rE{G/A}\\\Ep};
\node[tx] (n34h) at (1222.8,344) {\bE{G/G}\\\Ep};
\node[tx] (n34i) at (1250,344) {\rE{G/A}\\\Ep};
\node[tx] (n34j) at (1275,344) {\rE{G/A}\\\Ep};
\node[tx] (n34k) at (1300,344) {\bE{G/G}\\\Ep};

\node[ttl] (t35) at (756.7,386.7) {Pedigree 35};
\node[ml] (p35-f) at (743.3,410) {}; \node[fm] (p35-m) at (765.7,410) {}; \rip{p35-f} \rip{p35-m}
\draw[lk] (p35-f) -- (p35-m);
\node[fm,pid=1] (p35-1) at (702.7,458) {};
\node[fm,qf,pid=2] (p35-2) at (728,458) {};
\node[ml,hf,pid=3] (p35-3) at (755,458) {};
\node[fm,pid=4] (p35-4) at (787,458) {};
\node[ml] (p35-s) at (816,458) {2};
\sibs{j35a}{754.5,440}{p35-f}{p35-1,p35-2,p35-3,p35-4,p35-s}
\node[tx] (n35a) at (703,469) {\rE{G/A}\\E2 :(+)};
\node[tx] (n35b) at (735,469) {64y (CI)};
\node[tx] (n35c) at (765,469) {12y(F)};
\node[tx] (n35d) at (761.7,477) {\rE{G/A}\\\Ep};
\node[tx] (n35e) at (790,478) {\bE{G/G}\\\Ep};
\node[ml,pid=31] (p35-31) at (742.7,507) {};
\node[fm,af,pid=32] (p35-32) at (765,507) {}; \prb{p35-32}
\sibs{j35b}{755,492}{p35-3.south}{p35-31,p35-32}
\node[tx] (n35f) at (740,527) {\rE{G/A}\\\Ep};
\node[tx] (n35g) at (771.7,520) {12y (TIA)};
\node[tx] (n35h) at (768.3,528) {\rE{G/A}\\\Ep};

\node[ttl] (t36) at (870,386.7) {Pedigree 36};
\node[ml] (p36-f) at (856.7,410) {};
\node[fm,pid=1] (p36-1) at (879.3,410) {};
\draw[lk] (p36-f) -- (p36-1);
\node[tx] (n36a) at (880,420) {\bE{G/G}\\\Ep};
\node[fm,af,pid=11] (p36-11) at (856.7,458) {}; \prb{p36-11}
\node[fm,af,pid=12] (p36-12) at (879.3,458) {};
\sibs{j36a}{868,440}{p36-f}{p36-11,p36-12}
\node[tx] (n36b) at (855.5,473) {6y(CI)\\\rE{G/A}\\\Ep};
\node[tx] (n36c) at (881.7,473) {6y(F)\\\rE{G/A}\\\Ep};

\node[ttl] (t37) at (973.3,386.7) {Pedigree 37};
\node[fm] (p37-a) at (953.3,406.7) {};
\node[fm] (p37-b) at (986.7,406.7) {};
\coordinate (j37t) at (970,395);
\draw[lk] (p37-a) |- (j37t); \draw[lk] (p37-b) |- (j37t);
\node[fm,pid=12] (p37-12) at (953.3,458) {};
\draw[lk] (p37-a) -- (p37-12);
\node[fm] (p37-c) at (975,458) {};
\node[ml,af,pid=22] (p37-22) at (998.3,458) {};
\sibs{j37a}{986.7,440}{p37-b.south}{p37-c,p37-22}
\node[tx] (n37a) at (961.7,477) {\rE{G/A}};
\node[tx] (n37b) at (1005,473) {30y};
\node[tx] (n37c) at (1005,490) {\Ep};
\node[ml,af,pid=121] (p37-121) at (941.7,507) {}; \prb{p37-121}
\node[fm] (p37-c2) at (965,507) {};
\sibs{j37b}{953.3,492}{p37-12.south}{p37-121,p37-c2}
\node[tx] (n37d) at (943.3,527) {1y(stroke)\\\rE{A/A}\\E2 :(+)};

\node[ttl] (t38) at (1069.3,386.7) {Pedigree 38};
\node[fm] (p38-m) at (1062.3,406.7) {}; \node[ml] (p38-f) at (1084.3,406.7) {};
\draw[lk] (p38-m) -- (p38-f);
\node[ml] (p38-d) at (1050.7,458.3) {}; \rip{p38-d}
\node[uk] (p38-u) at (1073,458.3) {6};
\node[fm] (p38-c) at (1095.7,458.3) {};
\sibs{j38a}{1073.3,441}{p38-m}{p38-d,p38-u,p38-c}
\node[ml,af] (p38-p) at (1039.3,506.7) {}; \prb{p38-p}
\node[fm,gid=111] (p38-111) at (1061.7,506.7) {};
\sibs{j38b}{1050.7,491.7}{p38-d.south}{p38-p,p38-111}
\node[uk] (p38-u2) at (1084.3,506.7) {4};
\node[ml,af] (p38-s) at (1106.7,506.7) {};
\sibs{j38c}{1095.7,491.7}{p38-c.south}{p38-u2,p38-s}
\node[tx] (n38a) at (1040,519) {54y(F)\\\rE{G/A}\\E2 :(+)};
\node[tx] (n38b) at (1118.3,518) {62y};
\node[tx] (n38c) at (1118.3,535) {\Ep};
\node[ml] (p38-s2) at (1096,558.3) {};
\node[fm] (p38-c2) at (1118.3,558.3) {};
\sibs{j38d}{1106.7,541.7}{p38-s.south}{p38-s2,p38-c2}
\node[tx] (n38d) at (1120.7,574) {\Ep};

\node[ttl] (t39) at (1151,386.7) {Pedigree 39};
\node[ml] (p39-f) at (1136.7,406.7) {}; \rip{p39-f}
\node[fm,af,pid=1] (p39-1) at (1158.3,406.7) {}; \prb{p39-1}
\draw[lk] (p39-f) -- (p39-1);
\node[tx] (n39a) at (1163.3,423.3) {65y(CI)\\\rE{G/A}\\\Ep};
\node[ml] (p39-s) at (1136,458.3) {};
\node[fm,af,pid=12] (p39-12) at (1158.3,458.3) {};
\sibs{j39a}{1147,441}{p39-f}{p39-s,p39-12}
\node[tx] (n39b) at (1162.7,469) {10y(vertigo)\\\rE{G/A}\\\Ep};

\node[ttl] (t40) at (1253.3,386.7) {Pedigree 40};
\node[ml] (p40-a) at (1215,406.7) {};
\node[fm,af,pid=1] (p40-1) at (1261.7,406.7) {}; \prb{p40-1}
\node[ml] (p40-b) at (1306.7,406.7) {};
\draw[lk] (p40-a) -- (p40-1); \draw[lk] (p40-1) -- (p40-b);
\node[tx] (n40a) at (1266.7,416.7) {37y\\\rE{G/A}\\\Ep};
\node[ml,af,pid=11] (p40-11) at (1226.7,458.3) {};
\node[fm,pid=12] (p40-12) at (1249.3,458.3) {};
\sibs{j40a}{1238,441}{p40-a}{p40-11,p40-12}
\node[ml,pid=13] (p40-13) at (1272.7,458.3) {};
\node[ml,pid=14] (p40-14) at (1295,458.3) {};
\sibs{j40b}{1284,441}{p40-1}{p40-13,p40-14}
\node[tx] (n40b) at (1215,471.7) {infancy(headache)\\\rE{G/A}\\\Ep};
\node[tx] (n40c) at (1248.3,471.7) {\rE{G/A}};
\node[tx] (n40d) at (1255,481) {\Ep};
\node[tx] (n40e) at (1276.7,471.7) {\bE{G/G}};
\node[tx] (n40f) at (1301.7,471.7) {\textcolor{ered}{E1 :(G/G)}};

\node[fm] (lg1) at (696.7,561) {};
\node[ml] (lg2) at (696.7,578.5) {};
\node[uk] (lg3) at (696.7,596) {};
\node[fm] (lg4) at (696.7,615) {}; \rip{lg4}
\node[ml] (lg5) at (696.7,634.3) {2};
\coordinate (lga) at (691,659); \coordinate (lgb) at (702,652);
\draw[-{Stealth[length=4.5pt,width=4pt]},line width=1.2pt] (lga) -- (lgb);
\node[fm,af] (lg7) at (696.7,688.3) {};
\node[fm,hf] (lg8) at (696.7,708.3) {};
\node[fm,qf] (lg9) at (696.7,726.7) {};
\node[lg,right=5.5pt of lg1] (lt1) {Females};
\node[lg,right=5.5pt of lg2] (lt2) {Males};
\node[lg,right=5.5pt of lg3,yshift=-3pt] (lt3) {Sex unknown};
\node[lg,right=5.5pt of lg4,yshift=-3pt] (lt4) {Deceased individuals};
\node[lg,right=5.5pt of lg5,yshift=-3pt] (lt5) {Number of siblings};
\node[lg,right=6pt of lgb,yshift=-4pt] (lt6) {Probands};
\node[font=\pfont,inner sep=0pt] (lt7a) at (702.7,669.5) {1};
\node[lg] (lt7) at (708.3,675) {Number on right shoulder is personal ID};
\node[lg,right=5.5pt of lg7,yshift=-5.5pt] (lt8) {MMD by narrow classification};
\node[lg,right=5.5pt of lg8,yshift=-4.5pt] (lt9) {Hemilateral MMD};
\node[lg,right=5.5pt of lg9,yshift=-5pt] (lt10) {Intracranial stenosis or occlusion};

\node[ex] (e1) at (838.3,562.7) {Examples:};
\node[ex] (e2) at (838.3,579.3) {56y (ICH):onset age and symptoms};
\node[ex] (e3) at (838.3,587.7) {TIA :transient ischemic attack};
\node[ex] (e4) at (838.3,596) {CI :cerebral infarction};
\node[ex] (e5) at (838.3,604.3) {F :no symptom};
\node[lg] (e6) at (838.3,613.3) {{\ttfamily\fontsize{6.2}{7}\selectfont\color{black!60}IA }:intracranial aneurysm};
\node[lg] (e7) at (838.3,622.7) {SAH\ \ :subarachnoid hemorrhage};
\node[lg] (e8) at (838.3,632.3) {ICH\ \ :intracerebral hemorrhage};
\node[lg] (e9) at (838.3,642) {IVH\ \ :intraventriclar hemorrhage};
\node[lg] (e10) at (838.3,651.7) {epi\ \ :epilepsy};
\node[lg] (e11) at (838.3,671) {E1 :genotyped with ss161110142};
\node[lg] (e12) at (838.3,680) {E2 : confirming phenotype with};
\node[lg] (e13) at (838.3,689.3) {examination or operation};
\end{tikzpicture}
\end{document}
